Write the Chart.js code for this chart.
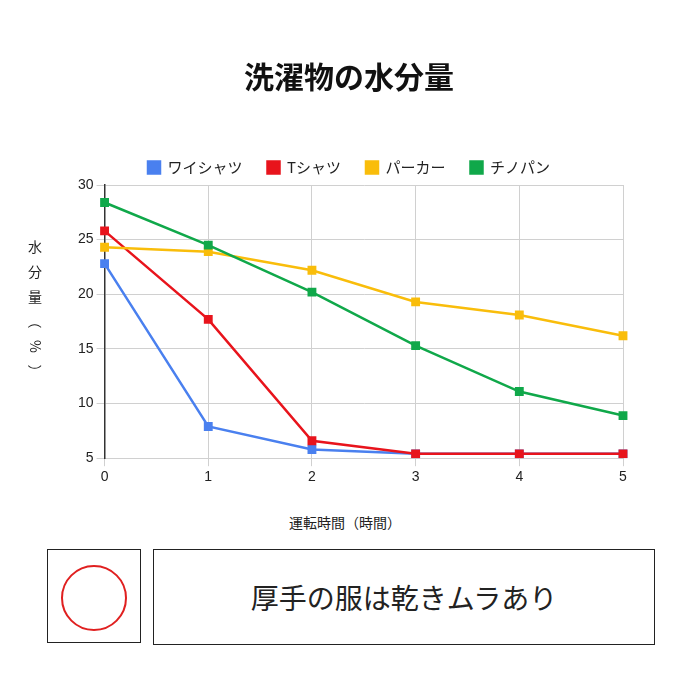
<!DOCTYPE html>
<html><head><meta charset="utf-8">
<script src="https://cdn.jsdelivr.net/npm/chart.js"></script>
<style>
body{margin:0;width:690px;height:690px;background:#fff;font-family:"Noto Sans CJK JP",sans-serif;position:relative;overflow:hidden}
#wrap{position:absolute;left:0;top:0;width:690px;height:489px}
.abs{position:absolute}
</style></head><body>
<div id="wrap"><canvas id="c"></canvas></div>
<div class="abs" style="left:25px;top:234px;width:20px;font-size:14px;line-height:25px;text-align:center;color:#222">水<br>分<br>量<br><span style="display:inline-block;transform:rotate(90deg)">（</span><br><span style="display:inline-block;transform:rotate(90deg)">%</span><br><span style="display:inline-block;transform:rotate(90deg)">）</span></div>
<div class="abs" style="left:0;width:690px;top:512px;text-align:center;font-size:14px;color:#222">運転時間（時間）</div>
<div class="abs" style="left:47px;top:549px;width:94px;height:94px;border:1.5px solid #222;box-sizing:border-box"></div>
<div class="abs" style="left:61px;top:565px;width:66px;height:66px;border:2.5px solid #e02020;border-radius:50%;box-sizing:border-box"></div>
<div class="abs" style="left:153px;top:549px;width:502px;height:96px;border:1.5px solid #222;box-sizing:border-box;display:flex;align-items:center;justify-content:center;font-size:28px;color:#222">厚手の服は乾きムラあり</div>
<script>
const categories=["0","1","2","3","4","5"];
const shirt=[22.8,7.9,5.8,5.4,5.4,5.4];
const tshirt=[25.8,17.7,6.6,5.4,5.4,5.4];
const parka=[24.3,23.9,22.2,19.3,18.1,16.2];
const chino=[28.4,24.5,20.2,15.3,11.1,8.9];
const names=["ワイシャツ","Tシャツ","パーカー","チノパン"];
const colors=["#4a80ef","#e8141c","#f9bd0b","#10a84a"];
const ds=[shirt,tshirt,parka,chino].map((d,i)=>({label:names[i],data:d,order:4-i,borderColor:colors[i],backgroundColor:colors[i],borderWidth:2.5,pointStyle:'rect',pointRadius:4.5,pointHoverRadius:4.5,tension:0}));
new Chart(document.getElementById('c'),{type:'line',data:{labels:categories,datasets:ds},
options:{responsive:true,maintainAspectRatio:false,animation:false,
layout:{padding:{left:75,right:67,top:45,bottom:0}},
plugins:{title:{display:true,text:'洗濯物の水分量',font:{size:30,weight:'bold',family:'Noto Sans CJK JP'},color:'#111',padding:{top:14,bottom:40}},
legend:{labels:{usePointStyle:true,pointStyle:'rect',boxWidth:12,boxHeight:12,padding:25,font:{size:15,family:'Noto Sans CJK JP'},color:'#222',sort:(a,b)=>a.datasetIndex-b.datasetIndex}},tooltip:{enabled:false}},
scales:{x:{offset:false,grid:{color:'#d0d0d0'},border:{color:'#d0d0d0'},ticks:{font:{size:14},color:'#222'}},
y:{min:5,max:30,ticks:{stepSize:5,font:{size:14},color:'#222'},grid:{color:'#d0d0d0'},border:{color:'#333',width:1.5}}}}});
</script></body></html>
